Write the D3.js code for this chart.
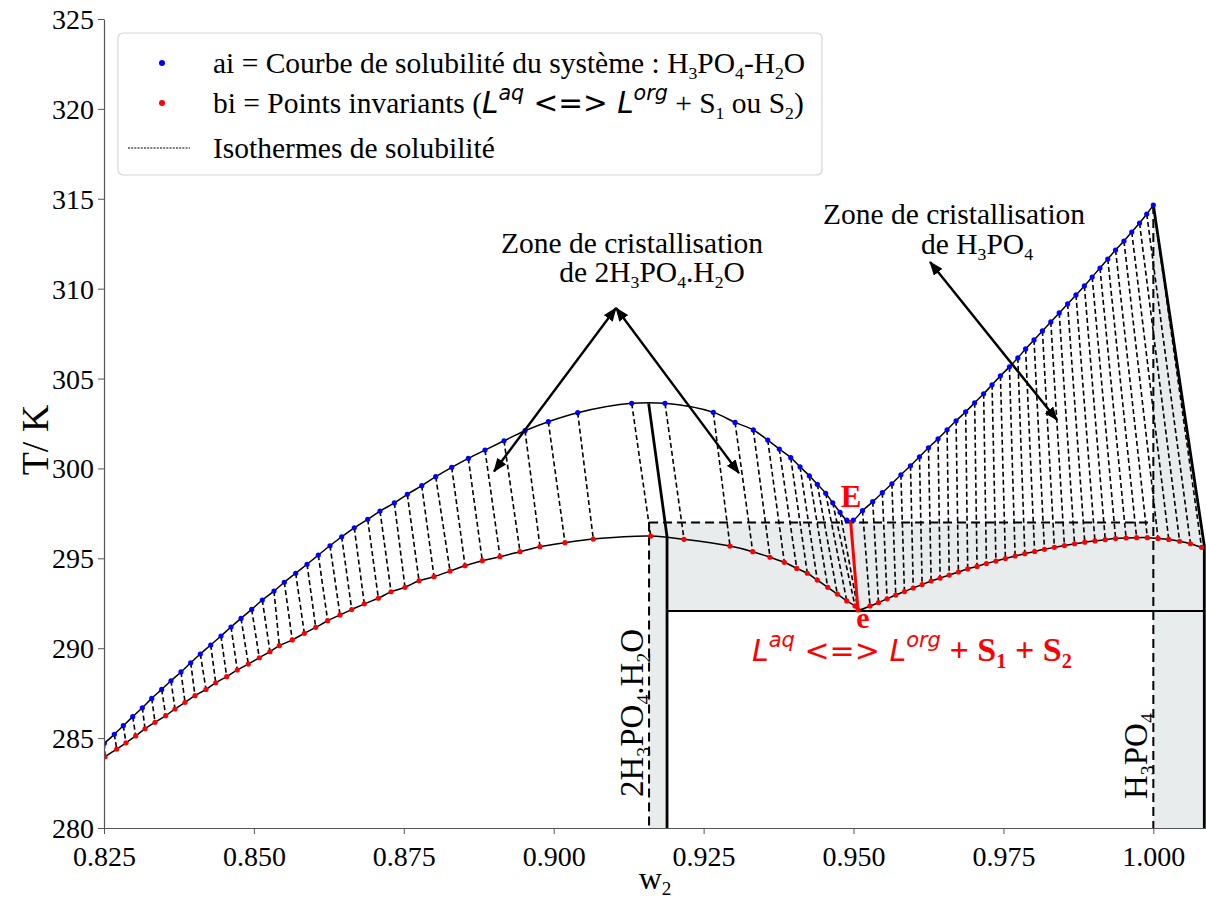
<!DOCTYPE html>
<html><head><meta charset="utf-8">
<script src="https://cdn.jsdelivr.net/npm/d3@7"></script>
<style>
body{margin:0;background:#fff}
svg{display:block}
text{font-family:"Liberation Serif","Times New Roman",serif;white-space:pre;fill:#000}
</style></head>
<body><svg id="chart" width="1206" height="900"></svg>
<script>
// ---------- data ----------
const xTicks = [0.825, 0.850, 0.875, 0.900, 0.925, 0.950, 0.975, 1.000];
const yTicks = [280, 285, 290, 295, 300, 305, 310, 315, 320, 325];

// ai : solubility curve, branch 2H3PO4.H2O (left of E)
const blueLeftW = [0.82505,0.82672,0.82822,0.82979,0.83139,0.83296,0.83462,0.83617,0.83784,0.83946,0.84106,0.84280,0.84451,0.84618,0.84785,0.84963,0.85140,0.85335,0.85507,0.85697,0.85886,0.86074,0.86269,0.86464,0.86674,0.86898,0.87103,0.87342,0.87558,0.87799,0.88032,0.88299,0.88576,0.88854,0.89171,0.89521,0.89910,0.90400,0.91301,0.91856,0.92662,0.93024,0.93329,0.93569,0.93762,0.93953,0.94108,0.94263,0.94396,0.94536,0.94653,0.94775,0.94887];
const blueLeftT = [284.71,285.21,285.69,286.19,286.69,287.21,287.71,288.19,288.68,289.19,289.68,290.18,290.68,291.18,291.66,292.16,292.68,293.18,293.67,294.17,294.67,295.18,295.70,296.20,296.70,297.17,297.63,298.08,298.56,299.04,299.54,300.06,300.56,301.02,301.54,302.10,302.60,303.10,303.62,303.62,303.12,302.56,302.14,301.58,301.08,300.60,300.09,299.59,299.12,298.62,298.09,297.56,297.13];
// ai : branch H3PO4 (right of E)
const blueRightW = [0.94997,0.9515,0.9532,0.9548,0.9564,0.9579,0.9595,0.9610,0.9625,0.9641,0.9656,0.9671,0.9687,0.9702,0.9717,0.9731,0.9745,0.9760,0.9774,0.9787,0.9801,0.9815,0.9829,0.9843,0.9857,0.9871,0.9885,0.9898,0.9911,0.9924,0.9937,0.9951,0.9964,0.9977,0.9989,1.0000];
const blueRightT = [297.13,297.65,298.15,298.65,299.15,299.65,300.15,300.65,301.15,301.65,302.15,302.65,303.15,303.65,304.15,304.65,305.15,305.65,306.15,306.65,307.15,307.65,308.15,308.65,309.15,309.65,310.15,310.65,311.15,311.65,312.15,312.65,313.15,313.65,314.15,314.65];

// bi : invariant points (lower curve), left of e (last one is e)
const redLeftW = [0.82517,0.82712,0.82867,0.83029,0.83184,0.83351,0.83529,0.83684,0.83851,0.84018,0.84201,0.84363,0.84546,0.84723,0.84907,0.85090,0.85268,0.85424,0.85640,0.85841,0.86031,0.86231,0.86436,0.86631,0.86841,0.87075,0.87287,0.87520,0.87754,0.88004,0.88271,0.88521,0.88809,0.89104,0.89438,0.89771,0.90188,0.90660,0.91617,0.92173,0.92940,0.93319,0.93607,0.93846,0.94053,0.94229,0.94396,0.94570,0.94730,0.94887,0.95025,0.95075];
const redLeftT = [283.97,284.39,284.74,285.12,285.52,285.88,286.25,286.62,286.99,287.36,287.71,288.08,288.42,288.79,289.12,289.47,289.81,290.14,290.46,290.83,291.16,291.53,291.85,292.15,292.47,292.78,293.14,293.39,293.75,293.98,294.29,294.59,294.87,295.09,295.37,295.65,295.87,296.07,296.24,296.06,295.68,295.37,295.06,294.78,294.44,294.17,293.79,293.39,293.01,292.63,292.35,292.13];
// bi : right of e
const redRightW = [0.95275,0.95417,0.95560,0.95704,0.95849,0.95996,0.96144,0.96294,0.96444,0.96596,0.96749,0.96904,0.97060,0.97216,0.97375,0.97533,0.97695,0.97857,0.98020,0.98184,0.98350,0.98517,0.98686,0.98856,0.99026,0.99198,0.99371,0.99546,0.99721,0.99900,1.00078,1.00257,1.00438,1.00620,1.00804];
const redRightT = [292.35,292.54,292.75,292.96,293.15,293.35,293.54,293.74,293.90,294.07,294.24,294.41,294.55,294.71,294.85,294.99,295.13,295.26,295.38,295.50,295.61,295.71,295.81,295.90,295.97,296.04,296.10,296.13,296.15,296.15,296.11,296.05,295.95,295.81,295.61];

// invariant / construction values
const E_pt = [0.9495, 297.13];
const e_pt = [0.95075, 292.13];
const wHemi = 0.9159, wHemiSolid = 0.9189, wAcid = 1.0000, wEnd = 1.0085;
const T_E_line = 297.0, T_e_line = 292.07;
const hemiPeak = [0.91583, 303.62], hemiKnee = [0.9189, 296.2];
const acidPeak = [1.0000, 314.65], acidKnee = [1.0085, 295.7];

// ---------- layout ----------
const svg = d3.select('#chart');
const x = d3.scaleLinear().domain([0.825, 1.01]).range([104, 1213.3]);
const y = d3.scaleLinear().domain([280, 325]).range([828, 19]);
const FS = 29.5;

const defs = svg.append('defs');
defs.append('clipPath').attr('id','clip')
  .append('rect').attr('x',104).attr('y',0).attr('width',1102).attr('height',828);
defs.append('marker').attr('id','ah').attr('markerUnits','userSpaceOnUse')
  .attr('viewBox','0 0 14 11').attr('markerWidth',14).attr('markerHeight',11)
  .attr('refX',13).attr('refY',5.5).attr('orient','auto-start-reverse')
  .append('path').attr('d','M0,0 L14,5.5 L0,11 z').attr('fill','#000');

const plot = svg.append('g').attr('clip-path','url(#clip)');

// gray shaded region
const grayPoly = [[wHemi,280],[wHemi,T_E_line],[wAcid,T_E_line],acidPeak,acidKnee,[wEnd,280],[wAcid,280],[wAcid,T_e_line],[wHemiSolid,T_e_line],[wHemiSolid,280]];
plot.append('path').attr('d', d3.line().x(d=>x(d[0])).y(d=>y(d[1]))(grayPoly)+'Z')
  .attr('fill','#e9eced').attr('stroke','none');

// isotherm dashed lines (ai -> bi)
const pairs = [];
for (let i=0;i<redLeftW.length;i++) pairs.push([blueLeftW[i],blueLeftT[i],redLeftW[i],redLeftT[i]]);
for (let i=0;i<redRightW.length;i++) pairs.push([blueRightW[i+1],blueRightT[i+1],redRightW[i],redRightT[i]]);
plot.selectAll('line.iso').data(pairs).join('line').attr('class','iso')
  .attr('x1',d=>x(d[0])).attr('y1',d=>y(d[1])).attr('x2',d=>x(d[2])).attr('y2',d=>y(d[3]))
  .attr('stroke','#000').attr('stroke-width',1.6).attr('stroke-dasharray','5,3');

// construction lines
const seg = (pts, w, dash, col='#000') => plot.append('path')
  .attr('d', d3.line().x(d=>x(d[0])).y(d=>y(d[1]))(pts))
  .attr('fill','none').attr('stroke',col).attr('stroke-width',w)
  .attr('stroke-dasharray',dash||null);
seg([[wHemi,T_E_line],[wAcid-0.0005,T_E_line]], 2, '9,5');
seg([[wHemi,T_E_line],[wHemi,280]], 2, '9,5');
seg([acidPeak,[wAcid,280]], 2, '9,5');
seg([[wHemiSolid,T_e_line],[wEnd,T_e_line]], 2.2);
seg([hemiPeak,hemiKnee,[wHemiSolid,280]], 2.8);
seg([acidPeak,acidKnee,[wEnd,280]], 2.8);

// curves
const curve = d3.line().x(d=>x(d[0])).y(d=>y(d[1])).curve(d3.curveCatmullRom.alpha(0.5));
const blueAll = blueLeftW.map((w,i)=>[w,blueLeftT[i]]).concat(blueRightW.map((w,i)=>[w,blueRightT[i]]));
const redAll = redLeftW.map((w,i)=>[w,redLeftT[i]]).concat(redRightW.map((w,i)=>[w,redRightT[i]]));
plot.append('path').attr('d',curve(blueAll)).attr('fill','none').attr('stroke','#000').attr('stroke-width',1.5);
plot.append('path').attr('d',curve(redAll)).attr('fill','none').attr('stroke','#000').attr('stroke-width',1.5);

// E - e red line
seg([E_pt, e_pt], 3, null, '#ff0000');

// points
plot.selectAll('circle.b').data(blueAll).join('circle').attr('class','b')
  .attr('cx',d=>x(d[0])).attr('cy',d=>y(d[1])).attr('r',2.6).attr('fill','#0000ff');
plot.selectAll('circle.r').data(redAll).join('circle').attr('class','r')
  .attr('cx',d=>x(d[0])).attr('cy',d=>y(d[1])).attr('r',2.6).attr('fill','#ff0000');

// ---------- axes ----------
const ax = svg.append('g').attr('transform','translate(0,828)')
  .call(d3.axisBottom(x).tickValues(xTicks).tickFormat(d3.format('.3f')).tickSize(6).tickSizeOuter(0));
const ay = svg.append('g').attr('transform','translate(104,0)')
  .call(d3.axisLeft(y).tickValues(yTicks).tickFormat(d3.format('d')).tickSize(6).tickSizeOuter(0));
[ax, ay].forEach(a=>{
  a.select('.domain').attr('stroke','#555').attr('stroke-width',1.2);
  a.selectAll('.tick line').attr('stroke','#555');
  a.selectAll('.tick text').attr('font-family','"Liberation Serif",serif').attr('font-size',28).attr('fill','#000');
});
ax.selectAll('.tick text').attr('dy','1.05em');
ay.selectAll('.tick text').attr('x',-10).attr('dy','0.34em');

// ---------- rich text helper ----------
function rich(parent, px, py, segs, fs, anchor) {
  const t = parent.append('text').attr('x',px).attr('y',py).attr('font-size',fs)
    .attr('text-anchor',anchor||'start');
  let off = 0;
  segs.forEach(s=>{
    const str = s[0], st = s[1]||'', base = s[2]||fs;
    let target = 0, size = base;
    if (st.includes('sub')) { target = 0.2*base; size = 0.6*base; }
    if (st.includes('sup')) { target = -0.45*base; size = 0.7*base; }
    const ts = t.append('tspan').text(str).attr('font-size',size).attr('dy',target-off);
    off = target;
    if (st.includes('sans')) ts.attr('font-family','"DejaVu Sans",sans-serif');
    if (st.includes('it')) ts.attr('font-style','italic');
    if (st.includes('bold')) ts.attr('font-weight','bold');
  });
  return t;
}

// axis titles
svg.append('text').attr('transform','translate(48,440) rotate(-90)').attr('text-anchor','middle')
  .attr('font-size',38).text('T/ K');
rich(svg, 655, 889, [['w'],['2','sub']], 32, 'middle');

// ---------- legend ----------
const lg = svg.append('g');
lg.append('rect').attr('x',118).attr('y',33).attr('width',704).attr('height',142).attr('rx',5)
  .attr('fill','#fff').attr('fill-opacity',0.85).attr('stroke','#d5d5d5').attr('stroke-width',1.2);
lg.append('circle').attr('cx',162).attr('cy',63).attr('r',3).attr('fill','#0000ff');
lg.append('circle').attr('cx',162).attr('cy',103).attr('r',3).attr('fill','#ff0000');
lg.append('line').attr('x1',128).attr('x2',190).attr('y1',148).attr('y2',148)
  .attr('stroke','#000').attr('stroke-width',1).attr('stroke-dasharray','2,1.2');
rich(lg, 213, 73, [['ai = Courbe de solubilité du système : H'],['3','sub'],['PO'],['4','sub'],['-H'],['2','sub'],['O']], FS);
rich(lg, 213, 113, [['bi = Points invariants ('],['L','sans it'],['aq','sans it sup'],[' <=> ','sans'],['L','sans it'],['org','sans it sup'],[' + S'],['1','sub'],[' ou S'],['2','sub'],[')']], FS);
rich(lg, 213, 158, [['Isothermes de solubilité']], FS);

// ---------- annotations ----------
const ann = svg.append('g');
const A = { hemiFrom:[0.91039,308.92], hemiTo1:[0.89004,299.83], hemiTo2:[0.93090,299.74],
            acidFrom:[0.96276,311.48], acidTo:[0.98394,302.69] };
const arrow = (a,b)=>ann.append('line').attr('x1',x(a[0])).attr('y1',y(a[1])).attr('x2',x(b[0])).attr('y2',y(b[1]))
  .attr('stroke','#000').attr('stroke-width',2.4).attr('marker-start','url(#ah)').attr('marker-end','url(#ah)');
arrow(A.hemiFrom, A.hemiTo1);
arrow(A.hemiFrom, A.hemiTo2);
arrow(A.acidFrom, A.acidTo);

rich(ann, x(0.91306), y(311.98), [['Zone de cristallisation']], FS, 'middle');
rich(ann, x(0.91640), y(310.37), [['de 2H'],['3','sub'],['PO'],['4','sub'],['.H'],['2','sub'],['O']], FS, 'middle');
rich(ann, x(0.96676), y(313.59), [['Zone de cristallisation']], FS, 'middle');
rich(ann, x(0.97060), y(311.92), [['de H'],['3','sub'],['PO'],['4','sub']], FS, 'middle');

ann.append('text').attr('x',x(0.94958)).attr('y',y(297.85)).attr('text-anchor','middle')
  .attr('font-size',31).attr('font-weight','bold').style('fill','#ff0000').text('E');
ann.append('text').attr('x',x(0.95158)).attr('y',y(291.14)).attr('text-anchor','middle')
  .attr('font-size',30).attr('font-weight','bold').style('fill','#ff0000').text('e');
const red = rich(ann, x(0.93307), y(289.30), [['L','sans it'],['aq','sans it sup'],[' <=> ','sans'],['L','sans it'],['org','sans it sup'],[' + S','bold',34],['1','sub bold',34],[' + S','bold',34],['2','sub bold',34]], 30);
red.selectAll('tspan').style('fill','#ff0000');

// rotated compound labels
const r1 = rich(ann, 0, 0, [['2H'],['3','sub'],['PO'],['4','sub'],['.H'],['2','sub'],['O']], 33, 'middle');
r1.attr('transform',`translate(${x(0.91489)},${y(286.40)}) rotate(-90)`);
const r2 = rich(ann, 0, 0, [['H'],['3','sub'],['PO'],['4','sub']], 33, 'middle');
r2.attr('transform',`translate(${x(0.99895)},${y(284.0)}) rotate(-90)`);
</script></body></html>
